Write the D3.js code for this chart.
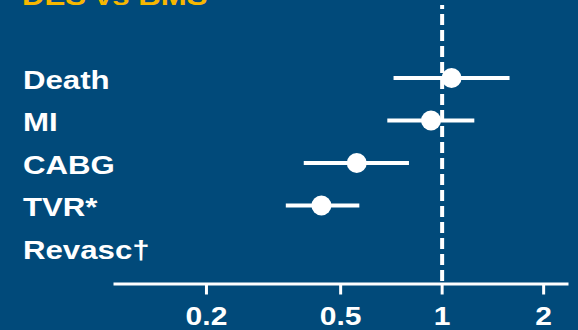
<!DOCTYPE html>
<html>
<head>
<meta charset="utf-8">
<script src="https://cdn.jsdelivr.net/npm/d3@7/dist/d3.min.js"></script>
<style>
  html, body { margin: 0; padding: 0; background: #014a7a; }
  svg { display: block; font-family: "Liberation Sans", Arial, sans-serif; font-weight: bold; }
</style>
</head>
<body>
<svg id="chart" width="578" height="330"></svg>
<script>
// Outcomes and hazard ratios (point estimate with 95% CI)
const categories = ["Death", "MI", "CABG", "TVR*", "Revasc†"];
const estimates  = [1.07, 0.93, 0.56, 0.44, null];
const lowerCI    = [0.72, 0.69, 0.39, 0.345, null];
const upperCI    = [1.59, 1.25, 0.80, 0.57, null];
const tickValues = [0.2, 0.5, 1, 2];
const axisExtent = [0.106, 2.37];
const title = "DES vs BMS";

const svg = d3.select("#chart");
const W = 578, H = 330;
const stretch = 1.2; // wide lettering

svg.append("rect").attr("width", W).attr("height", H).attr("fill", "#014a7a");

const x = d3.scaleLog().domain(axisExtent).range([113, 568]);
const y = d3.scalePoint().domain(categories).range([79, 249]);
const axisY = 283.5;

// Title
svg.append("text")
  .attr("transform", `translate(22,5) scale(${stretch},1)`)
  .attr("fill", "#f7b700")
  .attr("font-size", 26)
  .text(title);

// Row labels
svg.append("g").selectAll("text")
  .data(categories)
  .join("text")
  .attr("transform", d => `translate(23,${y(d) + 9.5}) scale(${stretch},1)`)
  .attr("fill", "#fff")
  .attr("font-size", 26)
  .text(d => d);

// Reference line at HR = 1
svg.append("line")
  .attr("x1", x(1) + 0.5).attr("x2", x(1) + 0.5)
  .attr("y1", 5).attr("y2", axisY)
  .attr("stroke", "#fff")
  .attr("stroke-width", 4)
  .attr("stroke-dasharray", "11,5")
  .attr("stroke-dashoffset", 7);

// Axis
const axis = d3.axisBottom(x)
  .tickValues(tickValues)
  .tickFormat(d => d)
  .tickSize(11)
  .tickSizeOuter(0)
  .tickPadding(13);

const gAxis = svg.append("g")
  .attr("transform", `translate(0,${axisY})`)
  .call(axis);
gAxis.select(".domain").attr("stroke", "#fff").attr("stroke-width", 3);
gAxis.selectAll(".tick line").attr("stroke", "#fff").attr("stroke-width", 3);
gAxis.selectAll(".tick text")
  .attr("fill", "#fff")
  .attr("font-size", 25)
  .attr("font-weight", "bold")
  .attr("font-family", "'Liberation Sans', Arial, sans-serif")
  .attr("transform", `scale(${stretch},1)`);

// Confidence intervals and estimates
const rows = categories.map((c, i) => ({ c, est: estimates[i], lo: lowerCI[i], hi: upperCI[i] }))
  .filter(d => d.est != null);

const g = svg.append("g");
g.selectAll("line.ci")
  .data(rows)
  .join("line")
  .attr("class", "ci")
  .attr("x1", d => x(d.lo)).attr("x2", d => x(d.hi))
  .attr("y1", d => y(d.c) - 1).attr("y2", d => y(d.c) - 1)
  .attr("stroke", "#fff")
  .attr("stroke-width", 4);

g.selectAll("circle")
  .data(rows)
  .join("circle")
  .attr("cx", d => x(d.est))
  .attr("cy", d => y(d.c) - 1)
  .attr("r", 10)
  .attr("fill", "#fff");
</script>
</body>
</html>
